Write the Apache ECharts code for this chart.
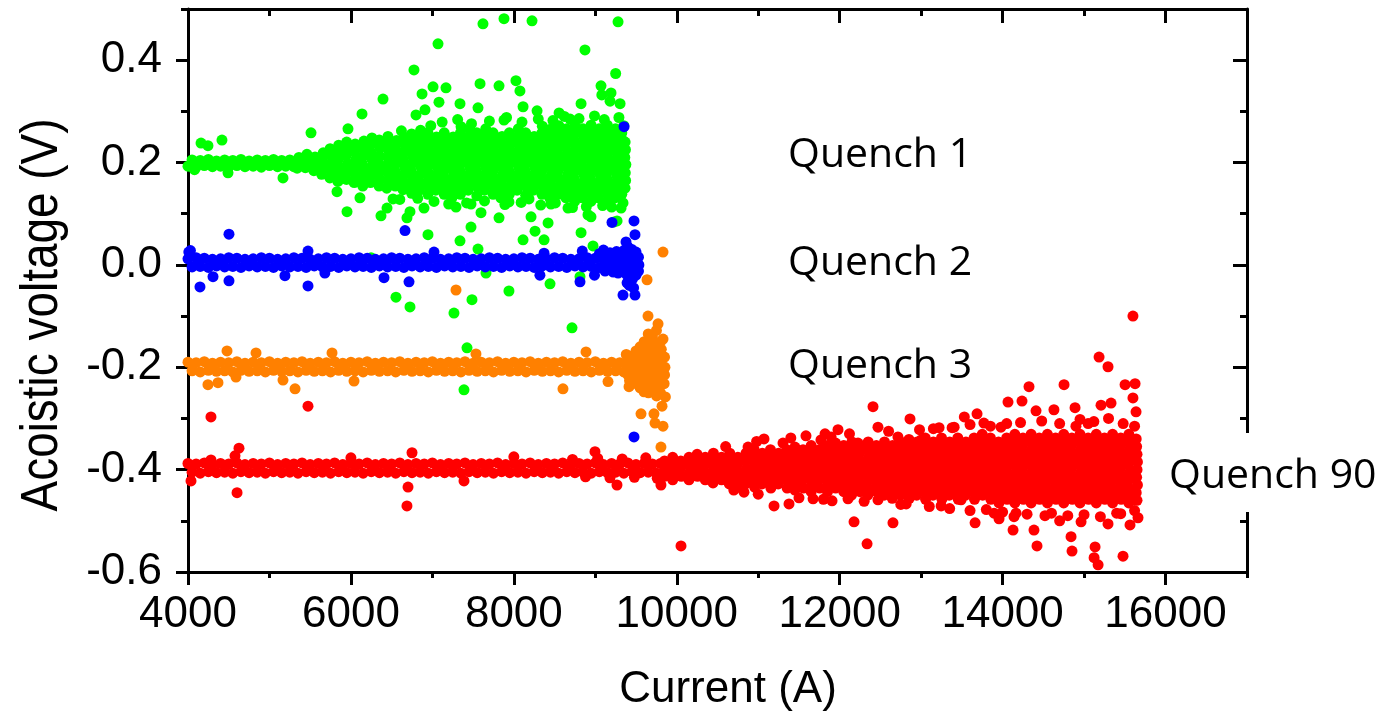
<!DOCTYPE html>
<html>
<head>
<meta charset="utf-8">
<script src="https://cdn.jsdelivr.net/npm/echarts@6/dist/echarts.min.js"></script>
<style>
html, body { margin: 0; padding: 0; background: #fff; }
#chart { width: 1391px; height: 718px; }
</style>
</head>
<body>
<div id="chart"></div>
<script>
// tick positions
const currentTicks = [4000, 6000, 8000, 10000, 12000, 14000, 16000]
const currentMinorTicks = [5000, 7000, 9000, 11000, 13000, 15000, 17000]
const voltageTicks = [-0.6, -0.4, -0.2, 0, 0.2, 0.4]
const voltageMinorTicks = [-0.5, -0.3, -0.1, 0.1, 0.3, 0.5]

// Quench 1 (green)
const q1Base = [
  [4000,.193],[4050,.205],[4100,.191],[4150,.204],[4200,.194],[4250,.206],[4300,.192],[4350,.203],
  [4400,.193],[4450,.205],[4500,.191],[4550,.204],[4600,.194],[4650,.206],[4700,.192],[4750,.203],
  [4800,.193],[4850,.205],[4900,.191],[4950,.204],[5000,.194],[5050,.206],[5100,.192],[5150,.204],
  [5200,.193],[5250,.205],[5300,.192]
]
const q1Cloud = [
  [5340,.189],[5355,.2],[5362,.21],
  [5440,.19],[5452,.205],[5460,.216],
  [5545,.184],[5552,.197],[5560,.211],
  [5640,.177],[5655,.19],[5648,.205],[5660,.219],
  [5742,.17],[5755,.183],[5750,.198],[5760,.213],[5745,.227],
  [5840,.163],[5852,.176],[5860,.191],[5845,.206],[5855,.221],[5850,.234],
  [5945,.167],[5952,.183],[5960,.198],[5940,.213],[5955,.228],[5948,.24],
  [6040,.161],[6055,.175],[6048,.19],[6060,.206],[6045,.221],[6052,.236],
  [6145,.154],[6150,.168],[6158,.184],[6140,.198],[6155,.213],[6148,.228],[6160,.242],
  [6240,.161],[6255,.176],[6248,.191],[6260,.206],[6245,.22],[6252,.236],[6258,.248],
  [6345,.154],[6352,.168],[6358,.183],[6342,.198],[6350,.213],[6355,.229],[6348,.244],
  [6440,.15],[6448,.165],[6460,.18],[6445,.195],[6452,.21],[6458,.225],[6450,.24],[6455,.251],
  [6545,.154],[6552,.168],[6542,.183],[6550,.198],[6555,.213],[6548,.228],[6560,.243],
  [6640,.147],[6655,.161],[6648,.176],[6660,.19],[6645,.205],[6652,.221],[6658,.236],[6650,.25],
  [6745,.14],[6752,.153],[6758,.168],[6742,.183],[6750,.198],[6755,.213],[6748,.228],[6760,.243],[6745,.256],
  [6840,.146],[6855,.16],[6848,.176],[6860,.191],[6845,.206],[6852,.22],[6858,.236],[6850,.251],[6855,.263],
  [6945,.138],[6952,.153],[6958,.168],[6942,.183],[6950,.198],[6955,.213],[6948,.228],[6960,.243],[6945,.258],
  [7040,.146],[7055,.16],[7048,.176],[7060,.191],[7045,.206],[7052,.221],[7058,.236],[7050,.25],
  [7145,.138],[7152,.153],[7158,.168],[7142,.183],[7150,.198],[7155,.213],[7148,.228],[7160,.243],[7145,.258],
  [7240,.131],[7255,.146],[7248,.161],[7260,.176],[7245,.19],[7252,.206],[7258,.221],[7250,.236],[7255,.25],
  [7345,.138],[7352,.153],[7358,.168],[7342,.183],[7350,.198],[7355,.213],[7348,.228],[7360,.243],[7345,.258],[7352,.27],
  [7440,.146],[7455,.161],[7448,.176],[7460,.19],[7445,.206],[7452,.221],[7458,.236],[7450,.25],[7455,.265],
  [7545,.135],[7552,.153],[7558,.168],[7542,.183],[7550,.198],[7555,.213],[7548,.228],[7560,.243],[7545,.258],
  [7640,.146],[7655,.161],[7648,.176],[7660,.19],[7645,.206],[7652,.221],[7658,.236],[7650,.251],[7655,.266],
  [7745,.138],[7752,.153],[7758,.168],[7742,.183],[7750,.198],[7755,.213],[7748,.228],[7760,.243],[7745,.258],
  [7840,.131],[7855,.146],[7848,.161],[7860,.176],[7845,.191],[7852,.206],[7858,.221],[7850,.236],[7855,.251],
  [7945,.138],[7952,.153],[7958,.168],[7942,.183],[7950,.198],[7955,.213],[7948,.228],[7960,.243],[7945,.258],
  [8040,.146],[8055,.161],[8048,.176],[8060,.19],[8045,.206],[8052,.221],[8058,.236],[8050,.251],[8055,.266],
  [8145,.136],[8152,.153],[8158,.168],[8142,.183],[8150,.198],[8155,.213],[8148,.228],[8160,.243],[8145,.258],
  [8240,.146],[8255,.161],[8248,.176],[8260,.19],[8245,.206],[8252,.221],[8258,.236],[8250,.251],
  [8345,.138],[8352,.153],[8358,.168],[8342,.183],[8350,.198],[8355,.213],[8348,.228],[8360,.243],[8345,.258],[8350,.271],
  [8440,.131],[8455,.146],[8448,.161],[8460,.176],[8445,.191],[8452,.206],[8458,.221],[8450,.236],[8455,.251],[8448,.265],
  [8545,.138],[8552,.153],[8558,.168],[8542,.183],[8550,.198],[8555,.213],[8548,.228],[8560,.243],[8545,.258],[8552,.272],
  [8640,.131],[8655,.146],[8648,.161],[8660,.176],[8645,.191],[8652,.206],[8658,.221],[8650,.236],[8655,.251],[8648,.266],
  [8745,.124],[8752,.138],[8758,.153],[8742,.168],[8750,.183],[8755,.198],[8748,.213],[8760,.228],[8745,.243],[8752,.258],[8748,.272],
  [8840,.131],[8855,.146],[8848,.161],[8860,.176],[8845,.191],[8852,.206],[8858,.221],[8850,.236],[8855,.251],[8848,.266],
  [8945,.124],[8952,.138],[8958,.153],[8942,.168],[8950,.183],[8955,.198],[8948,.213],[8960,.228],[8945,.243],[8952,.258],[8948,.273],
  [9040,.131],[9055,.146],[9048,.161],[9060,.176],[9045,.191],[9052,.206],[9058,.221],[9050,.236],[9055,.251],[9048,.266],
  [9145,.124],[9152,.138],[9158,.153],[9142,.168],[9150,.183],[9155,.198],[9148,.213],[9160,.228],[9145,.243],[9152,.258],[9148,.273],
  [9240,.131],[9255,.146],[9248,.161],[9260,.176],[9245,.191],[9252,.206],[9258,.221],[9250,.236],[9255,.251],[9248,.266],
  [9325,.138],[9332,.153],[9338,.168],[9322,.183],[9330,.198],[9335,.213],[9328,.228],[9340,.243],[9325,.258],
  [9365,.15],[9372,.165],[9368,.18],[9375,.196],[9362,.21],[9370,.225],[9366,.24]
]
const q1Fringe = [
  [6620,.262],[6980,.272],[7120,.279],[7310,.284],[7480,.276],[7700,.281],[7910,.288],[8100,.279],
  [8300,.285],[8480,.282],[8620,.29],[8800,.286],[8990,.291],[9110,.284],[9290,.288],[9350,.272],
  [6600,.128],[6820,.13],[7020,.124],[7200,.119],[7420,.121],[7640,.125],[7890,.118],[8090,.122],
  [8330,.117],[8510,.121],[8720,.112],[8890,.114],[9090,.116],[9200,.113],[9340,.121]
]
const q1Scatter = [
  [4080,.186],[4160,.238],[4245,.233],[4417,.244],[4491,.18],[5166,.17],[5510,.258],[5964,.266],
  [7621,.471],[7879,.481],[8223,.477],[9279,.475],[7069,.432],[8873,.42],[6774,.381],[9250,.374],
  [7008,.348],[7167,.346],[7585,.354],[7818,.35],[8026,.36],[8075,.34],[6873,.334],[6394,.324],
  [7081,.318],[9070,.35],[9080,.332],[9193,.336],[9181,.32],[9304,.315],[8825,.315],[8113,.309],
  [8285,.301],[7560,.307],[7339,.315],[6909,.303],[6799,.293],[6136,.295],[7879,.283],[8555,.297],[8690,.285],
  [5829,.143],[5952,.104],[6111,.131],[6369,.096],[6443,.111],[6517,.129],[6688,.092],[6725,.104],
  [6897,.111],[6946,.059],[7290,.113],[7339,.047],[7474,.074],[7597,.102],[7818,.092],[7560,.031],
  [8211,.094],[8260,.066],[8371,.049],[8420,.082],[8113,.049],[8825,.063],[8972,.037],[8910,.098],
  [8947,.094],[9316,.111],[9267,.086],[8665,.111],[8456,.119],[8186,.129],[7940,.123],[7474,.119],[9230,.084],
  [8444,-.037],[7940,-.051],[7486,-.068],[6553,-.063],[6247,.014],[7658,-.016],[8812,-.023],
  [6725,-.082],[7265,-.094],[8714,-.123],[7425,-.162],[7388,-.244]
]

// Quench 2 (blue)
const q2Base = [
  [4000,.012],[4050,-.004],[4100,.014],[4150,-.003],[4200,.013],[4250,-.005],[4300,.011],[4350,-.002],
  [4400,.012],[4450,-.004],[4500,.014],[4550,-.003],[4600,.013],[4650,-.005],[4700,.011],[4750,-.002],
  [4800,.012],[4850,-.004],[4900,.014],[4950,-.003],[5000,.013],[5050,-.005],[5100,.011],[5150,-.002],
  [5200,.012],[5250,-.004],[5300,.014],[5350,-.003],[5400,.013],[5450,-.005],[5500,.011],[5550,-.002],
  [5600,.012],[5650,-.004],[5700,.014],[5750,-.003],[5800,.013],[5850,-.005],[5900,.011],[5950,-.002],
  [6000,.012],[6050,-.004],[6100,.014],[6150,-.003],[6200,.013],[6250,-.005],[6300,.011],[6350,-.002],
  [6400,.012],[6450,-.004],[6500,.014],[6550,-.003],[6600,.013],[6650,-.005],[6700,.011],[6750,-.002],
  [6800,.012],[6850,-.004],[6900,.014],[6950,-.003],[7000,.013],[7050,-.005],[7100,.011],[7150,-.002],
  [7200,.012],[7250,-.004],[7300,.014],[7350,-.003],[7400,.013],[7450,-.005],[7500,.011],[7550,-.002],
  [7600,.012],[7650,-.004],[7700,.014],[7750,-.003],[7800,.013],[7850,-.005],[7900,.011],[7950,-.002],
  [8000,.012],[8050,-.004],[8100,.014],[8150,-.003],[8200,.013],[8250,-.005],[8300,.011],[8350,-.002],
  [8400,.012],[8450,-.004],[8500,.014],[8550,-.003],[8600,.013],[8650,-.005],[8700,.011],[8750,-.002],
  [8800,.012],[8850,-.004],[8900,.014],[8950,-.003],[9000,.013],[9050,-.005],[9100,.011],[9150,-.002],
  [9200,.012],[9250,-.004],[9300,.014]
]
const q2End = [
  [9050,.022],[9120,-.012],[9180,.024],[9220,-.014],[9260,.026],[9280,-.016],[9310,.02],[9320,.005],
  [9330,-.012],[9350,.028],[9360,.012],[9370,-.003],[9380,-.018],[9400,.035],[9405,.02],[9410,.005],
  [9400,-.01],[9410,-.025],[9450,.03],[9455,.015],[9450,0],[9445,-.015],[9455,-.028],[9500,.025],
  [9495,.01],[9505,-.005],[9500,-.02],[9530,.015],[9535,0],[9530,-.012],[9420,-.04],[9470,-.045],[9390,-.035]
]
const q2Scatter = [
  [4010,.025],[4030,.028],[4503,.06],[6664,.067],[9353,.27],[9205,.083],[9475,.086],[9487,.059],[9377,.045],
  [4147,-.043],[4307,-.023],[4503,-.031],[5473,-.041],[6406,-.025],[6713,-.033],[8812,-.033],
  [9340,-.059],[9487,-.059],[9475,-.336],[5473,.027],[7020,.025],[8371,.023],[8840,.027],[9100,.029],
  [5190,-.021],[5680,-.016],[8320,-.02],[8990,-.02]
]

// Quench 3 (orange)
const q3Base = [
  [4000,-.19],[4050,-.207],[4100,-.191],[4150,-.209],[4200,-.189],[4250,-.206],[4300,-.192],[4350,-.208],
  [4400,-.19],[4450,-.207],[4500,-.191],[4550,-.209],[4600,-.189],[4650,-.206],[4700,-.192],[4750,-.208],
  [4800,-.19],[4850,-.207],[4900,-.191],[4950,-.209],[5000,-.189],[5050,-.206],[5100,-.192],[5150,-.208],
  [5200,-.19],[5250,-.207],[5300,-.191],[5350,-.209],[5400,-.189],[5450,-.206],[5500,-.192],[5550,-.208],
  [5600,-.19],[5650,-.207],[5700,-.191],[5750,-.209],[5800,-.189],[5850,-.206],[5900,-.192],[5950,-.208],
  [6000,-.19],[6050,-.207],[6100,-.191],[6150,-.209],[6200,-.189],[6250,-.206],[6300,-.192],[6350,-.208],
  [6400,-.19],[6450,-.207],[6500,-.191],[6550,-.209],[6600,-.189],[6650,-.206],[6700,-.192],[6750,-.208],
  [6800,-.19],[6850,-.207],[6900,-.191],[6950,-.209],[7000,-.189],[7050,-.206],[7100,-.192],[7150,-.208],
  [7200,-.19],[7250,-.207],[7300,-.191],[7350,-.209],[7400,-.189],[7450,-.206],[7500,-.192],[7550,-.208],
  [7600,-.19],[7650,-.207],[7700,-.191],[7750,-.209],[7800,-.189],[7850,-.206],[7900,-.192],[7950,-.208],
  [8000,-.19],[8050,-.207],[8100,-.191],[8150,-.209],[8200,-.189],[8250,-.206],[8300,-.192],[8350,-.208],
  [8400,-.19],[8450,-.207],[8500,-.191],[8550,-.209],[8600,-.189],[8650,-.206],[8700,-.192],[8750,-.208],
  [8800,-.19],[8850,-.207],[8900,-.191],[8950,-.209],[9000,-.189],[9050,-.206],[9100,-.192],[9150,-.208],
  [9200,-.19],[9250,-.207],[9300,-.191],[9350,-.209],[9400,-.19]
]
const q3End = [
  [9400,-.185],[9405,-.2],[9400,-.215],[9380,-.175],[9420,-.226],
  [9450,-.178],[9455,-.193],[9450,-.207],[9445,-.222],
  [9500,-.168],[9505,-.185],[9500,-.2],[9495,-.215],[9505,-.232],
  [9550,-.16],[9555,-.178],[9550,-.193],[9545,-.207],[9555,-.222],[9550,-.24],
  [9600,-.15],[9605,-.17],[9600,-.185],[9595,-.2],[9605,-.215],[9600,-.23],[9598,-.248],
  [9650,-.135],[9655,-.163],[9650,-.178],[9645,-.193],[9655,-.207],[9650,-.222],[9645,-.237],[9652,-.25],
  [9700,-.14],[9705,-.155],[9700,-.17],[9695,-.185],[9705,-.2],[9700,-.215],[9695,-.23],[9702,-.245],
  [9750,-.128],[9755,-.16],[9750,-.178],[9745,-.193],[9755,-.207],[9750,-.222],[9745,-.237],[9752,-.256],
  [9800,-.15],[9805,-.185],[9800,-.2],[9795,-.215],[9805,-.23],[9800,-.25],[9810,-.165],
  [9850,-.18],[9855,-.2],[9850,-.215],[9845,-.232],[9860,-.258]
]
const q3Scatter = [
  [4479,-.168],[4835,-.172],[5768,-.172],[7535,-.174],[8886,-.17],
  [4245,-.234],[4368,-.23],[5314,-.242],[6038,-.227],[8603,-.242],[4589,-.219],[5166,-.225],
  [7290,-.049],[9635,-.029],[9831,.025],[9647,-.1],[9770,-.115],[9831,-.145],[9156,-.228],[9414,-.238],
  [9819,-.276],[9561,-.291],[9720,-.291],[9733,-.309],[9831,-.315],[9806,-.356]
]

// Quench 90 (red)
const q90Base = [
  [4000,-.388],[4050,-.405],[4100,-.389],[4150,-.407],[4200,-.387],[4250,-.404],[4300,-.39],[4350,-.406],
  [4400,-.388],[4450,-.405],[4500,-.389],[4550,-.407],[4600,-.387],[4650,-.404],[4700,-.39],[4750,-.406],
  [4800,-.388],[4850,-.405],[4900,-.389],[4950,-.407],[5000,-.387],[5050,-.404],[5100,-.39],[5150,-.406],
  [5200,-.388],[5250,-.405],[5300,-.389],[5350,-.407],[5400,-.387],[5450,-.404],[5500,-.39],[5550,-.406],
  [5600,-.388],[5650,-.405],[5700,-.389],[5750,-.407],[5800,-.387],[5850,-.404],[5900,-.39],[5950,-.406],
  [6000,-.388],[6050,-.405],[6100,-.389],[6150,-.407],[6200,-.387],[6250,-.404],[6300,-.39],[6350,-.406],
  [6400,-.388],[6450,-.405],[6500,-.389],[6550,-.407],[6600,-.387],[6650,-.404],[6700,-.39],[6750,-.406],
  [6800,-.388],[6850,-.405],[6900,-.389],[6950,-.407],[7000,-.387],[7050,-.404],[7100,-.39],[7150,-.406],
  [7200,-.388],[7250,-.405],[7300,-.389],[7350,-.407],[7400,-.387],[7450,-.404],[7500,-.39],[7550,-.406],
  [7600,-.388],[7650,-.405],[7700,-.389],[7750,-.407],[7800,-.387],[7850,-.404],[7900,-.39],[7950,-.406],
  [8000,-.388],[8050,-.405],[8100,-.389],[8150,-.407],[8200,-.387],[8250,-.404],[8300,-.39],[8350,-.406],
  [8400,-.388],[8450,-.405],[8500,-.389],[8550,-.407],[8600,-.387],[8650,-.404],[8700,-.39],[8750,-.406],
  [8800,-.388],[8850,-.405],[8900,-.389],[8950,-.407],[9000,-.387],[9050,-.404],[9100,-.39],[9150,-.406],
  [9200,-.388],[9250,-.405],[9300,-.389],[9350,-.407],[9400,-.387],[9450,-.404],[9500,-.39],[9550,-.406],
  [9600,-.388],[9650,-.405],[9700,-.389],[9750,-.407],[9800,-.388],
  [8720,-.38],[8880,-.414],[9030,-.378],[9180,-.416],[9330,-.379],[9480,-.415],[9620,-.377],[9760,-.417]
]
const q90Cloud = [
  [9850,-.383],[9855,-.398],[9848,-.413],
  [9950,-.376],[9945,-.39],[9955,-.406],[9950,-.42],
  [10050,-.383],[10045,-.398],[10055,-.413],
  [10150,-.376],[10145,-.39],[10155,-.406],[10150,-.42],
  [10250,-.37],[10250,-.383],[10245,-.398],[10255,-.413],
  [10350,-.376],[10345,-.39],[10355,-.406],[10350,-.42],
  [10450,-.368],[10445,-.383],[10455,-.398],[10450,-.413],[10445,-.426],
  [10550,-.376],[10545,-.39],[10555,-.406],[10550,-.42],
  [10650,-.368],[10645,-.383],[10655,-.398],[10650,-.413],[10645,-.428],
  [10750,-.376],[10745,-.39],[10755,-.406],[10750,-.42],[10755,-.434],
  [10850,-.368],[10845,-.383],[10855,-.398],[10850,-.413],[10845,-.428],
  [10950,-.361],[10945,-.376],[10955,-.39],[10950,-.406],[10945,-.42],[10955,-.434],
  [11050,-.368],[11045,-.383],[11055,-.398],[11050,-.413],[11045,-.428],
  [11150,-.361],[11145,-.376],[11155,-.39],[11150,-.406],[11145,-.42],[11155,-.436],
  [11250,-.368],[11245,-.383],[11255,-.398],[11250,-.413],[11245,-.428],
  [11350,-.361],[11345,-.376],[11355,-.39],[11350,-.406],[11345,-.42],[11355,-.436],
  [11450,-.356],[11445,-.368],[11455,-.383],[11450,-.398],[11445,-.413],[11455,-.428],[11450,-.44],
  [11550,-.361],[11545,-.376],[11555,-.39],[11550,-.406],[11545,-.42],[11555,-.436],
  [11650,-.353],[11645,-.368],[11655,-.383],[11650,-.398],[11645,-.413],[11655,-.428],[11650,-.443],
  [11750,-.361],[11745,-.376],[11755,-.39],[11750,-.406],[11745,-.42],[11755,-.436],
  [11850,-.353],[11845,-.368],[11855,-.383],[11850,-.398],[11845,-.413],[11855,-.428],[11850,-.443],
  [11950,-.348],[11945,-.361],[11955,-.376],[11950,-.39],[11945,-.406],[11955,-.42],[11950,-.436],
  [12050,-.353],[12045,-.368],[12055,-.383],[12050,-.398],[12045,-.413],[12055,-.428],[12050,-.443],
  [12150,-.346],[12145,-.361],[12155,-.376],[12150,-.39],[12145,-.406],[12155,-.42],[12150,-.436],[12145,-.45],
  [12250,-.353],[12245,-.368],[12255,-.383],[12250,-.398],[12245,-.413],[12255,-.428],[12250,-.443],
  [12350,-.346],[12345,-.361],[12355,-.376],[12350,-.39],[12345,-.406],[12355,-.42],[12350,-.436],[12345,-.45],
  [12450,-.353],[12445,-.368],[12455,-.383],[12450,-.398],[12445,-.413],[12455,-.428],[12450,-.443],
  [12550,-.346],[12545,-.361],[12555,-.376],[12550,-.39],[12545,-.406],[12555,-.42],[12550,-.436],[12545,-.45],
  [12650,-.353],[12645,-.368],[12655,-.383],[12650,-.398],[12645,-.413],[12655,-.428],[12650,-.443],[12645,-.456],
  [12750,-.346],[12745,-.361],[12755,-.376],[12750,-.39],[12745,-.406],[12755,-.42],[12750,-.436],[12745,-.45],
  [12850,-.341],[12845,-.353],[12855,-.368],[12850,-.383],[12845,-.398],[12855,-.413],[12850,-.428],[12845,-.443],[12855,-.456],
  [12950,-.346],[12945,-.361],[12955,-.376],[12950,-.39],[12945,-.406],[12955,-.42],[12950,-.436],[12945,-.45],
  [13050,-.338],[13045,-.353],[13055,-.368],[13050,-.383],[13045,-.398],[13055,-.413],[13050,-.428],[13045,-.443],[13055,-.458],
  [13150,-.346],[13145,-.361],[13155,-.376],[13150,-.39],[13145,-.406],[13155,-.42],[13150,-.436],[13145,-.45],
  [13250,-.338],[13245,-.353],[13255,-.368],[13250,-.383],[13245,-.398],[13255,-.413],[13250,-.428],[13245,-.443],[13255,-.458],
  [13350,-.346],[13345,-.361],[13355,-.376],[13350,-.39],[13345,-.406],[13355,-.42],[13350,-.436],[13345,-.45],
  [13450,-.338],[13445,-.353],[13455,-.368],[13450,-.383],[13445,-.398],[13455,-.413],[13450,-.428],[13445,-.443],[13455,-.458],
  [13550,-.346],[13545,-.361],[13555,-.376],[13550,-.39],[13545,-.406],[13555,-.42],[13550,-.436],[13545,-.45],
  [13650,-.338],[13645,-.353],[13655,-.368],[13650,-.383],[13645,-.398],[13655,-.413],[13650,-.428],[13645,-.443],[13655,-.458],
  [13750,-.331],[13745,-.346],[13755,-.361],[13750,-.376],[13745,-.39],[13755,-.406],[13750,-.42],[13745,-.436],[13755,-.45],
  [13850,-.338],[13845,-.353],[13855,-.368],[13850,-.383],[13845,-.398],[13855,-.413],[13850,-.428],[13845,-.443],[13855,-.458],
  [13950,-.346],[13945,-.361],[13955,-.376],[13950,-.39],[13945,-.406],[13955,-.42],[13950,-.436],[13945,-.45],[13955,-.465],
  [14050,-.338],[14045,-.353],[14055,-.368],[14050,-.383],[14045,-.398],[14055,-.413],[14050,-.428],[14045,-.443],[14055,-.458],
  [14150,-.331],[14145,-.346],[14155,-.361],[14150,-.376],[14145,-.39],[14155,-.406],[14150,-.42],[14145,-.436],[14155,-.45],[14150,-.465],
  [14250,-.338],[14245,-.353],[14255,-.368],[14250,-.383],[14245,-.398],[14255,-.413],[14250,-.428],[14245,-.443],[14255,-.458],
  [14350,-.331],[14345,-.346],[14355,-.361],[14350,-.376],[14345,-.39],[14355,-.406],[14350,-.42],[14345,-.436],[14355,-.45],[14350,-.465],
  [14450,-.338],[14445,-.353],[14455,-.368],[14450,-.383],[14445,-.398],[14455,-.413],[14450,-.428],[14445,-.443],[14455,-.458],
  [14550,-.331],[14545,-.346],[14555,-.361],[14550,-.376],[14545,-.39],[14555,-.406],[14550,-.42],[14545,-.436],[14555,-.45],[14550,-.465],
  [14650,-.338],[14645,-.353],[14655,-.368],[14650,-.383],[14645,-.398],[14655,-.413],[14650,-.428],[14645,-.443],[14655,-.458],
  [14750,-.331],[14745,-.346],[14755,-.361],[14750,-.376],[14745,-.39],[14755,-.406],[14750,-.42],[14745,-.436],[14755,-.45],[14750,-.465],
  [14850,-.338],[14845,-.353],[14855,-.368],[14850,-.383],[14845,-.398],[14855,-.413],[14850,-.428],[14845,-.443],[14855,-.458],
  [14950,-.331],[14945,-.346],[14955,-.361],[14950,-.376],[14945,-.39],[14955,-.406],[14950,-.42],[14945,-.436],[14955,-.45],[14950,-.465],
  [15050,-.338],[15045,-.353],[15055,-.368],[15050,-.383],[15045,-.398],[15055,-.413],[15050,-.428],[15045,-.443],[15055,-.458],
  [15150,-.331],[15145,-.346],[15155,-.361],[15150,-.376],[15145,-.39],[15155,-.406],[15150,-.42],[15145,-.436],[15155,-.45],[15150,-.465],
  [15250,-.338],[15245,-.353],[15255,-.368],[15250,-.383],[15245,-.398],[15255,-.413],[15250,-.428],[15245,-.443],[15255,-.458],
  [15350,-.331],[15345,-.346],[15355,-.361],[15350,-.376],[15345,-.39],[15355,-.406],[15350,-.42],[15345,-.436],[15355,-.45],[15350,-.465],
  [15450,-.338],[15445,-.353],[15455,-.368],[15450,-.383],[15445,-.398],[15455,-.413],[15450,-.428],[15445,-.443],[15455,-.458],
  [15550,-.331],[15545,-.346],[15555,-.361],[15550,-.376],[15545,-.39],[15555,-.406],[15550,-.42],[15545,-.436],[15555,-.45],[15550,-.465],
  [15640,-.34],[15645,-.355],[15650,-.37],[15655,-.385],[15650,-.4],[15645,-.415],[15655,-.43],[15640,-.445],[15650,-.46]
]
const q90Fringe = [
  [10600,-.355],[10980,-.345],[11400,-.338],[11820,-.33],[12120,-.33],[12600,-.325],[12980,-.322],[13150,-.32],
  [13380,-.318],[13600,-.312],[13850,-.315],[14050,-.31],[14220,-.308],[14480,-.305],[14700,-.31],[14950,-.302],
  [15120,-.306],[15300,-.3],[15480,-.31],[15620,-.315],
  [10700,-.44],[11000,-.448],[11500,-.455],[11800,-.458],[12300,-.462],[12750,-.468],[13100,-.472],[13350,-.476],
  [13600,-.48],[13800,-.478],[14000,-.483],[14300,-.487],[14600,-.485],[14800,-.49],[15000,-.488],[15200,-.492],
  [15450,-.486],[15620,-.48]
]
const q90Scatter = [
  [4037,-.422],[4282,-.297],[5473,-.276],[4626,-.358],[4602,-.445],[6701,-.434],[6688,-.471],[6750,-.367],
  [8996,-.365],[9266,-.43],[9806,-.43],[7388,-.422],[4577,-.373],[6000,-.377],[8000,-.375],[4282,-.381],
  [10052,-.549],[11071,-.34],[11304,-.348],[11586,-.334],[11979,-.322],[12409,-.277],[12470,-.317],[12863,-.301],
  [12176,-.502],[12654,-.504],[12336,-.545],[11194,-.471],[11378,-.467],[11673,-.457],[11906,-.461],[12102,-.457],
  [13220,-.318],[13686,-.291],[13530,-.297],[14324,-.238],[14066,-.268],[14238,-.266],[14410,-.285],[14754,-.234],
  [14889,-.279],[15184,-.18],[15294,-.199],[13662,-.504],[13956,-.496],[14128,-.518],[14422,-.549],[14840,-.531],
  [14852,-.559],[15135,-.551],[15123,-.572],[15172,-.586],[15503,-.234],[15626,-.232],[15600,-.26],[15208,-.274],
  [15331,-.27],[15638,-.287],[15478,-.569],[15662,-.494],[15564,-.508],[14963,-.502],[15294,-.506],[14165,-.485],
  [15600,-.1],[10825,-.444],[12470,-.459],[12816,-.467],[13245,-.471],[13490,-.459],[13895,-.485],[14140,-.492],
  [14385,-.518],[10875,-.356],[11770,-.342],[11895,-.336],[12225,-.348],[12715,-.336],[13000,-.342],[13405,-.317],
  [13770,-.309],[13980,-.317],[14630,-.283],[14520,-.49],[14700,-.5],[15400,-.485],[15050,-.31],[14900,-.315]
]

const chart = echarts.init(document.getElementById('chart'))

const axisLine = { onZero: false, lineStyle: { color: '#000', width: 3 } }
const tickLine = { color: '#000', width: 3 }
const tickFont = { fontSize: 44, fontFamily: '"Liberation Sans", Arial, sans-serif', color: '#000' }
const dotSize = 11

chart.setOption({
  animation: false,
  backgroundColor: '#fff',
  grid: { left: 188, right: 144, top: 9, bottom: 146, containLabel: false },
  xAxis: [
    {
      type: 'value', position: 'bottom', min: 4000, max: 17000, interval: 2000,
      axisLine: axisLine, splitLine: { show: false },
      axisTick: { length: 13, lineStyle: tickLine, customValues: currentTicks },
      axisLabel: Object.assign({ margin: 21, customValues: currentTicks, formatter: v => String(v) }, tickFont)
    },
    {
      type: 'value', position: 'bottom', min: 4000, max: 17000, interval: 1000,
      axisLine: { show: false, onZero: false }, splitLine: { show: false },
      axisTick: { length: 6, lineStyle: tickLine, customValues: currentMinorTicks },
      axisLabel: { show: false }
    },
    {
      type: 'value', position: 'top', min: 4000, max: 17000, interval: 2000,
      axisLine: axisLine, splitLine: { show: false },
      axisTick: { inside: true, length: 14, lineStyle: tickLine, customValues: currentTicks },
      axisLabel: { show: false }
    },
    {
      type: 'value', position: 'top', min: 4000, max: 17000, interval: 1000,
      axisLine: { show: false, onZero: false }, splitLine: { show: false },
      axisTick: { inside: true, length: 7, lineStyle: tickLine, customValues: currentMinorTicks },
      axisLabel: { show: false }
    }
  ],
  yAxis: [
    {
      type: 'value', position: 'left', min: -0.6, max: 0.5, interval: 0.2,
      axisLine: axisLine, splitLine: { show: false },
      axisTick: { length: 12, lineStyle: tickLine, customValues: voltageTicks },
      axisLabel: Object.assign({
        margin: 26, customValues: voltageTicks,
        formatter: v => (Math.abs(v) < 1e-9 ? 0 : v).toFixed(1)
      }, tickFont)
    },
    {
      type: 'value', position: 'left', min: -0.6, max: 0.5, interval: 0.1,
      axisLine: { show: false, onZero: false }, splitLine: { show: false },
      axisTick: { length: 7, lineStyle: tickLine, customValues: voltageMinorTicks },
      axisLabel: { show: false }
    },
    {
      type: 'value', position: 'right', min: -0.6, max: 0.5, interval: 0.2,
      axisLine: axisLine, splitLine: { show: false },
      axisTick: { inside: true, length: 14, lineStyle: tickLine, customValues: voltageTicks },
      axisLabel: { show: false }
    },
    {
      type: 'value', position: 'right', min: -0.6, max: 0.5, interval: 0.1,
      axisLine: { show: false, onZero: false }, splitLine: { show: false },
      axisTick: { inside: true, length: 7, lineStyle: tickLine, customValues: voltageMinorTicks },
      axisLabel: { show: false }
    }
  ],
  series: [
    { name: 'Quench 1', type: 'scatter', symbolSize: dotSize, silent: true,
      itemStyle: { color: '#00ff00', opacity: 1 }, data: q1Base.concat(q1Cloud, q1Fringe, q1Scatter) },
    { name: 'Quench 2', type: 'scatter', symbolSize: dotSize, silent: true,
      itemStyle: { color: '#0000ff', opacity: 1 }, data: q2Base.concat(q2End, q2Scatter) },
    { name: 'Quench 3', type: 'scatter', symbolSize: dotSize, silent: true,
      itemStyle: { color: '#ff8000', opacity: 1 }, data: q3Base.concat(q3End, q3Scatter) },
    { name: 'Quench 90', type: 'scatter', symbolSize: dotSize, silent: true,
      itemStyle: { color: '#ff0000', opacity: 1 }, data: q90Base.concat(q90Cloud, q90Fringe, q90Scatter) }
  ],
  graphic: [
    { type: 'rect', z: 100, shape: { x: 1152, y: 433, width: 239, height: 79 }, style: { fill: '#fff' } },
    { type: 'text', z: 101, x: 788, y: 155, style: { text: 'Quench 1', fontSize: 41, fontFamily: '"Open Sans"', fill: '#000', verticalAlign: 'middle' } },
    { type: 'text', z: 101, x: 788, y: 263, style: { text: 'Quench 2', fontSize: 41, fontFamily: '"Open Sans"', fill: '#000', verticalAlign: 'middle' } },
    { type: 'text', z: 101, x: 788, y: 366, style: { text: 'Quench 3', fontSize: 41, fontFamily: '"Open Sans"', fill: '#000', verticalAlign: 'middle' } },
    { type: 'text', z: 101, x: 1169, y: 476, style: { text: 'Quench 90', fontSize: 41, fontFamily: '"Open Sans"', fill: '#000', verticalAlign: 'middle' } },
    { type: 'text', z: 101, x: 728, y: 690, style: { text: 'Current (A)', fontSize: 44, fontFamily: '"Liberation Sans", Arial, sans-serif', fill: '#000', align: 'center', verticalAlign: 'middle' } },
    { type: 'text', z: 101, x: 43, y: 315, rotation: Math.PI / 2, scaleX: 0.9,
      style: { text: 'Acoistic voltage (V)', fontSize: 51, fontFamily: '"Liberation Sans", Arial, sans-serif', fill: '#000', align: 'center', verticalAlign: 'middle' } }
  ]
})
</script>
</body>
</html>
